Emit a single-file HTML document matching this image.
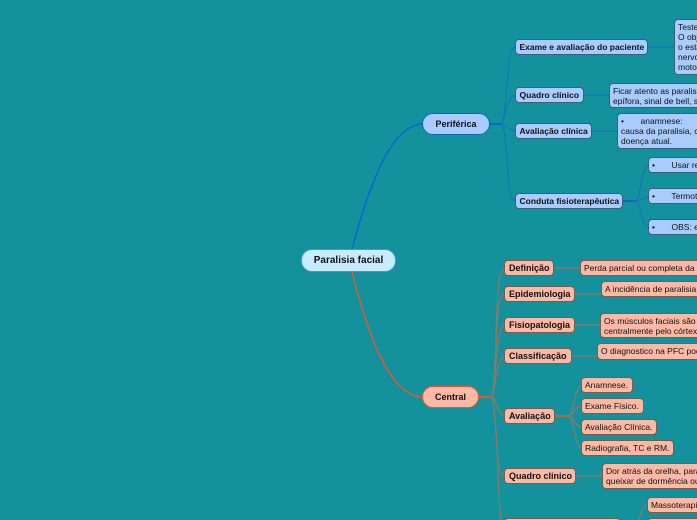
<!DOCTYPE html>
<html style="width:697px;height:520px;overflow:hidden"><head><meta charset="utf-8">
<style>
html,body{margin:0;padding:0}
body{width:697px;height:520px;overflow:hidden;background:#13929d;position:relative;font-family:"Liberation Sans",sans-serif;color:#111}
#w{position:absolute;left:0;top:0;width:697px;height:520px;overflow:hidden;contain:strict}
svg{position:absolute;left:0;top:0}
.n{position:absolute;box-sizing:border-box;font-size:8.5px;line-height:10px;white-space:pre;border-radius:4px;overflow:hidden}
.b{font-weight:bold;display:flex;align-items:center;padding-left:3.5px}
.blue{background:#a9ccfc;border:1px solid #35607f}
.red{background:#fbb9a6;border:1px solid #7a5c4c}
.red.b{font-size:9px;padding-left:4px}
.t{padding:2px 0 0 3px}
.main{border-radius:11px;font-weight:bold;font-size:9px;display:flex;align-items:center;justify-content:center}
</style></head><body><div id="w">
<svg width="697" height="520" fill="none">
<path d="M352 249C368 190 390 124 423 124" stroke="#0a66c8" stroke-width="1.5"/>
<path d="M352 272C368 335 390 397 423 397" stroke="#e8572a" stroke-width="1.5"/>
<g stroke="#0a66c8" stroke-width="2"><path d="M489 124H501"/><path d="M623 201H635"/></g>
<g stroke="#0f78b8" stroke-width="1.2">
<path d="M501 124C505 124 506 90 508 75C509 60 510 47 516 47"/>
<path d="M501 124C505 124 506 95 516 95"/>
<path d="M501 124C506 124 509 131 516 131"/>
<path d="M501 124C505 124 506 150 508 170C509 190 510 201 516 201"/>
<path d="M648 47H674"/><path d="M583 95H609"/><path d="M591 131H618"/>
<path d="M635 201C641 201 641 165 649 165"/><path d="M635 201C641 201 643 197 649 197"/><path d="M635 201C641 201 641 227 649 227"/>
</g>
<path d="M479 397H491" stroke="#e8572a" stroke-width="2"/>
<path d="M555 416H569" stroke="#e8572a" stroke-width="1.5"/>
<path d="M621 526H634" stroke="#e8572a" stroke-width="1.5"/>
<g stroke="#8a7b66" stroke-width="1.2">
<path d="M491 397C495 397 496 330 497 310C498 285 500 268 505 268"/>
<path d="M491 397C495 397 496 340 497 325C498 305 500 294 505 294"/>
<path d="M491 397C495 397 496 350 498 345C499 335 501 325 505 325"/>
<path d="M491 397C495 397 496 356 505 356"/>
<path d="M491 397C496 397 498 416 505 416"/>
<path d="M491 397C494 397 496 430 497 445C498 465 500 476 505 476"/>
<path d="M491 397C494 397 497 440 498 470C499 500 500 526 505 526"/>
<path d="M554 268H580"/><path d="M575 294H601"/><path d="M575 325H601"/><path d="M572 356H597"/><path d="M576 476H602"/>
<path d="M569 416C574 416 574 385 582 385"/><path d="M569 416C574 416 574 406 582 406"/><path d="M569 416C574 416 574 427 582 427"/><path d="M569 416C574 416 574 448 582 448"/>
<path d="M634 526C640 526 640 505 648 505"/>
</g>
</svg>

<div class="n main" style="left:301px;top:249px;width:95px;height:23px;background:#c7ecff;border:1px solid #4a94d0;font-size:10px">Paralisia facial</div>
<div class="n main" style="left:422px;top:113px;width:68px;height:22px;background:#a9ccfc;border:1px solid #0a66c8">Periférica</div>
<div class="n main" style="left:422px;top:386px;width:57px;height:22px;background:#fbb9a6;border:1px solid #e8572a">Central</div>

<div class="n b blue" style="left:515px;top:39px;width:133px;height:16px">Exame e avaliação do paciente</div>
<div class="n b blue" style="left:515px;top:87px;width:69px;height:16px">Quadro clínico</div>
<div class="n b blue" style="left:515px;top:123px;width:77px;height:16px">Avaliação clínica</div>
<div class="n b blue" style="left:515px;top:193px;width:108px;height:16px">Conduta fisioterapêutica</div>

<div class="n t blue" style="left:674px;top:19px;width:40px;height:56px">Teste
O objetivo
o estado
nervo facial
motor</div>
<div class="n t blue" style="left:609px;top:83px;width:110px;height:25px">Ficar atento as paralisias
epífora, sinal de bell, sinal</div>
<div class="n t blue" style="left:617px;top:113px;width:110px;height:36px">•       anamnese:
causa da paralisia, como
doença atual.</div>
<div class="n t blue" style="left:648px;top:157px;width:80px;height:16px">•       Usar recursos</div>
<div class="n t blue" style="left:648px;top:188px;width:80px;height:16px">•       Termoterapia</div>
<div class="n t blue" style="left:648px;top:219px;width:80px;height:16px">•       OBS: evitar</div>

<div class="n b red" style="left:504px;top:260px;width:50px;height:16px">Definição</div>
<div class="n b red" style="left:504px;top:286px;width:71px;height:16px">Epidemiologia</div>
<div class="n b red" style="left:504px;top:317px;width:71px;height:16px">Fisiopatologia</div>
<div class="n b red" style="left:504px;top:348px;width:68px;height:16px">Classificação</div>
<div class="n b red" style="left:504px;top:408px;width:51px;height:16px">Avaliação</div>
<div class="n b red" style="left:504px;top:468px;width:72px;height:16px">Quadro clínico</div>
<div class="n b red" style="left:504px;top:518px;width:117px;height:16px"></div>

<div class="n t red" style="left:580px;top:260px;width:160px;height:16px">Perda parcial ou completa da função</div>
<div class="n t red" style="left:601px;top:281px;width:140px;height:16px">A incidência de paralisia facial</div>
<div class="n t red" style="left:600px;top:313px;width:140px;height:25px">Os músculos faciais são inervados
centralmente pelo córtex motor</div>
<div class="n t red" style="left:597px;top:343px;width:140px;height:17px">O diagnostico na PFC pode ser</div>
<div class="n t red" style="left:581px;top:377px;width:52px;height:16px">Anamnese.</div>
<div class="n t red" style="left:581px;top:398px;width:63px;height:16px">Exame Físico.</div>
<div class="n t red" style="left:581px;top:419px;width:76px;height:16px">Avaliação Clínica.</div>
<div class="n t red" style="left:581px;top:440px;width:93px;height:16px">Radiografia, TC e RM.</div>
<div class="n t red" style="left:602px;top:463px;width:140px;height:26px">Dor atrás da orelha, paralisia,
queixar de dormência ou</div>
<div class="n t red" style="left:647px;top:497px;width:80px;height:16px">Massoterapia</div>
<div class="n t red" style="left:647px;top:518px;width:80px;height:16px"></div>
</div></body></html>
